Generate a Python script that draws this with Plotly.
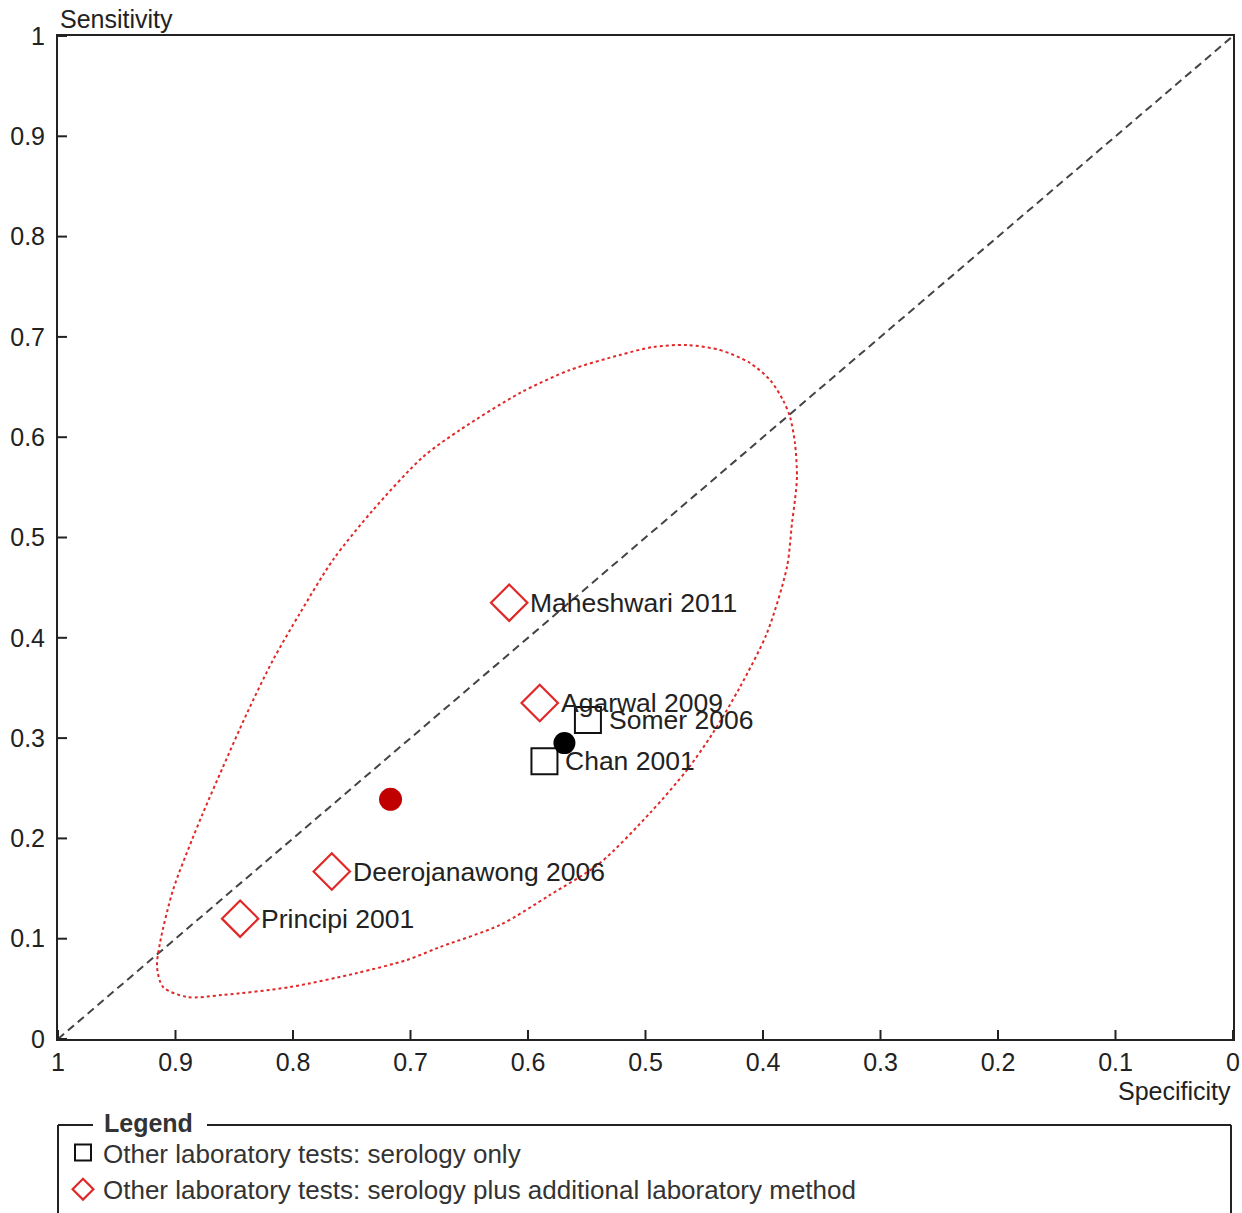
import plotly.graph_objects as go

# ---- data ----
ser_names = ["Somer 2006", "Chan 2001"]
ser_spec = [0.549, 0.586]
ser_sens = [0.318, 0.277]

plus_names = ["Maheshwari 2011", "Agarwal 2009", "Deerojanawong 2006", "Principi 2001"]
plus_spec = [0.616, 0.590, 0.767, 0.845]
plus_sens = [0.435, 0.335, 0.167, 0.120]

summary_ser = (0.569, 0.295)
summary_plus = (0.717, 0.239)

ell_spec = [0.4647, 0.4366, 0.4111, 0.3940, 0.3830, 0.3770, 0.3728, 0.3711, 0.3728, 0.3753,
            0.3796, 0.3966, 0.4196, 0.4426, 0.4647, 0.4962, 0.5387, 0.5813, 0.6238, 0.6749,
            0.7030, 0.7455, 0.8026, 0.8596, 0.8902, 0.9106, 0.9157, 0.9132, 0.9021, 0.8860,
            0.8766, 0.8596, 0.8391, 0.8170, 0.7940, 0.7660, 0.7319, 0.6894, 0.6579, 0.6068,
            0.5643, 0.5217, 0.4936, 0.4647]
ell_sens = [0.6919, 0.6869, 0.6740, 0.6570, 0.6371, 0.6201, 0.5942, 0.5603, 0.5374, 0.5145,
            0.4706, 0.4048, 0.3509, 0.3051, 0.2682, 0.2253, 0.1755, 0.1436, 0.1137, 0.0917,
            0.0788, 0.0658, 0.0518, 0.0439, 0.0419, 0.0518, 0.0718, 0.0957, 0.1486, 0.1984,
            0.2253, 0.2712, 0.3250, 0.3779, 0.4247, 0.4776, 0.5274, 0.5803, 0.6072, 0.6441,
            0.6670, 0.6820, 0.6899, 0.6919]

tick_vals = [0, 0.1, 0.2, 0.3, 0.4, 0.5, 0.6, 0.7, 0.8, 0.9, 1]
tick_text = ["0", "0.1", "0.2", "0.3", "0.4", "0.5", "0.6", "0.7", "0.8", "0.9", "1"]

legend_ser = "Other laboratory tests: serology only"
legend_plus = "Other laboratory tests: serology plus additional laboratory method"

FONT = "Liberation Sans"
RED = "#e02828"
TXT = "#222222"
W, H = 1242, 1213
L, R, T, B = 58, 9, 36, 174
PW, PH = W - L - R, H - T - B

fig = go.Figure()

# diagonal
fig.add_trace(go.Scatter(x=[1, 0], y=[0, 1], mode="lines",
                         line=dict(color="#444444", width=2, dash="8px,5px"),
                         showlegend=False, hoverinfo="skip"))
# confidence region
fig.add_trace(go.Scatter(x=ell_spec, y=ell_sens, mode="lines",
                         line=dict(color=RED, width=2, dash="dot", shape="spline", smoothing=0.8),
                         showlegend=False, hoverinfo="skip"))
# study points
fig.add_trace(go.Scatter(x=ser_spec, y=ser_sens, mode="markers", name=legend_ser,
                         marker=dict(symbol="square-open", size=26, color="#111111",
                                     line=dict(width=2, color="#111111")),
                         legendgroup="a"))
fig.add_trace(go.Scatter(x=plus_spec, y=plus_sens, mode="markers", name=legend_plus,
                         marker=dict(symbol="diamond-open", size=28, color=RED,
                                     line=dict(width=2.2, color=RED)),
                         legendgroup="b"))
# summary points
fig.add_trace(go.Scatter(x=[summary_ser[0]], y=[summary_ser[1]], mode="markers",
                         marker=dict(symbol="circle", size=22, color="#000000"),
                         showlegend=False))
fig.add_trace(go.Scatter(x=[summary_plus[0]], y=[summary_plus[1]], mode="markers",
                         marker=dict(symbol="circle", size=23, color="#c00000"),
                         showlegend=False))

annotations = []
for n, sx, sy in list(zip(ser_names, ser_spec, ser_sens)) + list(zip(plus_names, plus_spec, plus_sens)):
    annotations.append(dict(x=sx, y=sy, xref="x", yref="y", text=n, showarrow=False,
                            xanchor="left", yanchor="middle", xshift=19, yshift=0,
                            font=dict(family=FONT, size=26.5, color=TXT)))

annotations.append(dict(x=0, y=1, xref="paper", yref="paper", text="Sensitivity", showarrow=False,
                        xanchor="left", yanchor="bottom", yshift=1,
                        font=dict(family=FONT, size=25, color=TXT)))
annotations.append(dict(x=1, y=0, xref="paper", yref="paper", text="Specificity", showarrow=False,
                        xanchor="right", yanchor="middle", yshift=-52,
                        font=dict(family=FONT, size=25, color=TXT)))
annotations.append(dict(x=(102 - L) / PW, y=0, xref="paper", yref="paper", text="<b>Legend</b>",
                        showarrow=False, xanchor="left", yanchor="middle", yshift=-(1123 - (H - B)),
                        font=dict(family=FONT, size=25, color="#333333")))

shapes = []
# crossing tick marks
for v in tick_vals:
    shapes.append(dict(type="line", xref="x", yref="y", x0=v, x1=v, ysizemode="pixel",
                       yanchor=0, y0=-9, y1=9, line=dict(color="#222222", width=2)))
    shapes.append(dict(type="line", yref="y", xref="x", y0=v, y1=v, xsizemode="pixel",
                       xanchor=1, x0=-9, x1=9, line=dict(color="#222222", width=2)))

# legend box
ytop = ((H - B) - 1125) / PH
ybot = ((H - B) - 1240) / PH
xl = 0
xr = (1231 - L) / PW
for (x0, y0, x1, y1) in [(xl, ytop, (93 - L) / PW, ytop), ((207 - L) / PW, ytop, xr, ytop),
                         (xl, ytop, xl, ybot), (xr, ytop, xr, ybot)]:
    shapes.append(dict(type="line", xref="paper", yref="paper", x0=x0, y0=y0, x1=x1, y1=y1,
                       line=dict(color="#222222", width=2)))

axis_common = dict(showgrid=False, zeroline=False, showline=True, mirror=True,
                   linecolor="#222222", linewidth=2, ticks="", automargin=False,
                   tickvals=tick_vals, ticktext=tick_text,
                   tickfont=dict(family=FONT, size=25, color=TXT))

fig.update_layout(
    width=W, height=H,
    margin=dict(l=L, r=R, t=T, b=B, autoexpand=False),
    paper_bgcolor="white", plot_bgcolor="white",
    xaxis=dict(range=[1, 0], ticklabelstandoff=0, **axis_common),
    yaxis=dict(range=[0, 1], ticklabelstandoff=6, **axis_common),
    showlegend=True,
    legend=dict(xref="container", yref="container", x=63 / W, y=1 - 1129 / H,
                xanchor="left", yanchor="top",
                font=dict(family=FONT, size=26, color="#333333"),
                traceorder="grouped", tracegroupgap=0, bgcolor="rgba(0,0,0,0)",
                itemsizing="trace"),
    annotations=annotations,
    shapes=shapes,
)

fig.write_html("out.html", config={"displayModeBar": False},
               post_script="document.body.style.margin='0';")
